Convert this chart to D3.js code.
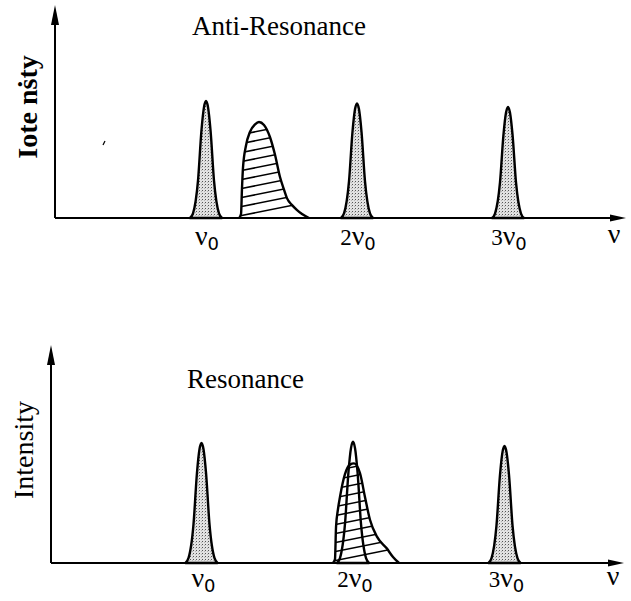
<!DOCTYPE html>
<html>
<head>
<meta charset="utf-8">
<script src="https://cdn.jsdelivr.net/npm/d3@7"></script>
<style>
  body { margin: 0; background: #fff; }
  text { font-family: "Liberation Serif", "Times New Roman", serif; fill: #000; }
</style>
</head>
<body>
<svg id="svg" width="631" height="601"></svg>
<script>
// harmonics, in units of nu0
const harmonics = [1, 2, 3];
const tickLabels = [["", "ν", "0"], ["2", "ν", "0"], ["3", "ν", "0"]];

// peak heights (relative)
const antiHeights = [1.0, 0.98, 0.95];
const resHeights = [1.0, 1.01, 0.975];

// shape of a sharp harmonic line: [offset from centre (nu0 units), relative height]
const lineProfile = [[-0.106, 0], [-0.086, 0.04], [-0.053, 0.32], [-0.030, 0.75], [-0.013, 0.95],
  [0, 1], [0.013, 0.95], [0.030, 0.75], [0.053, 0.32], [0.086, 0.04], [0.106, 0]];

// broad (hatched) band, absolute nu and height
const antiBand = [[1.219, 0], [1.232, 0.034], [1.238, 0.24], [1.245, 0.43], [1.265, 0.62], [1.291, 0.735],
  [1.325, 0.80], [1.351, 0.82], [1.384, 0.795], [1.424, 0.69], [1.457, 0.54], [1.490, 0.35], [1.517, 0.24],
  [1.536, 0.17], [1.570, 0.11], [1.603, 0.068], [1.636, 0.034], [1.682, 0]];
const resBand = [[1.868, 0], [1.881, 0.03], [1.888, 0.30], [1.901, 0.45], [1.914, 0.55], [1.947, 0.74],
  [1.980, 0.82], [2.007, 0.83], [2.046, 0.75], [2.079, 0.55], [2.112, 0.36], [2.158, 0.22],
  [2.224, 0.12], [2.264, 0.05], [2.304, 0]];

const svg = d3.select("#svg");

// stipple fill for the sharp lines
const defs = svg.append("defs");
const pat = defs.append("pattern").attr("id", "stip")
  .attr("width", 3).attr("height", 3).attr("patternUnits", "userSpaceOnUse");
pat.append("rect").attr("width", 3).attr("height", 3).attr("fill", "#e2e2e2");
pat.append("rect").attr("x", 1).attr("y", 1).attr("width", 1).attr("height", 1).attr("fill", "#555");
pat.append("rect").attr("x", 0).attr("y", 2).attr("width", 0.7).attr("height", 0.7).attr("fill", "#888");

function panel(id, o) {
  const g = svg.append("g");
  const x = d3.scaleLinear().domain([0, 1]).range([o.x0, o.x0 + o.unit]);
  const y = d3.scaleLinear().domain([0, 1]).range([o.base, o.base - o.hpx]);
  const area = d3.area().x(d => x(d[0])).y0(o.base).y1(d => y(d[1])).curve(d3.curveMonotoneX);
  const line = d3.line().x(d => x(d[0])).y(d => y(d[1])).curve(d3.curveMonotoneX);

  // hatched band
  defs.append("clipPath").attr("id", "clip" + id).append("path").attr("d", area(o.band));
  const bx0 = x(o.band[0][0]), bx1 = x(o.band[o.band.length - 1][0]);
  const hatch = g.append("g").attr("clip-path", `url(#clip${id})`);
  hatch.append("path").attr("d", area(o.band)).attr("fill", "#fff");
  d3.range(o.base - 2, o.base - o.hpx - 20, -9).forEach(yy => {
    hatch.append("line").attr("x1", bx0).attr("y1", yy).attr("x2", bx1).attr("y2", yy - 0.2 * (bx1 - bx0))
      .attr("stroke", "#000").attr("stroke-width", 1.6);
  });
  g.append("path").attr("d", line(o.band)).attr("fill", "none")
    .attr("stroke", "#000").attr("stroke-width", 2.4);

  // sharp harmonic lines
  harmonics.forEach((h, i) => {
    const pts = lineProfile.map(p => [h + p[0], p[1] * o.heights[i]]);
    const inside = h > o.band[0][0] && h < o.band[o.band.length - 1][0];
    g.append("path").attr("d", area(pts))
      .attr("fill", inside ? "none" : "url(#stip)")
      .attr("stroke", "#000").attr("stroke-width", 2.4).attr("stroke-linejoin", "round");
  });

  // axes
  g.append("line").attr("x1", o.ax).attr("y1", o.base).attr("x2", o.ax).attr("y2", o.ytop + 12)
    .attr("stroke", "#000").attr("stroke-width", 2);
  g.append("path").attr("d", `M${o.ax},${o.ytop} L${o.ax - 4},${o.ytop + 20} L${o.ax + 4},${o.ytop + 20} Z`);
  g.append("line").attr("x1", o.ax).attr("y1", o.base).attr("x2", o.xend - 10).attr("y2", o.base)
    .attr("stroke", "#000").attr("stroke-width", 2);
  g.append("path").attr("d", `M${o.xend},${o.base} L${o.xend - 16},${o.base - 3.5} L${o.xend - 16},${o.base + 3.5} Z`);

  // tick labels
  harmonics.forEach((h, i) => {
    const t = g.append("text").attr("x", x(h) + o.lab).attr("y", o.labY).attr("text-anchor", "middle");
    if (tickLabels[i][0]) t.append("tspan").attr("font-size", 23).text(tickLabels[i][0]);
    t.append("tspan").attr("font-size", 28).text(tickLabels[i][1]);
    t.append("tspan").attr("font-size", 18).attr("font-family", "DejaVu Sans").attr("dy", 5).text(tickLabels[i][2]);
  });
  g.append("text").attr("x", o.nuX).attr("y", o.labY - 2).attr("text-anchor", "middle")
    .attr("font-size", 28).text("ν");

  g.append("text").attr("x", o.titleX).attr("y", o.titleY).attr("font-size", 27).text(o.title);
  g.append("text").attr("transform", `translate(${o.ylabX},${o.ylabY}) rotate(-90)`)
    .attr("text-anchor", "middle").attr("font-size", o.ylabSize)
    .attr("font-weight", o.ylabBold ? "bold" : "normal").text(o.ylab);
}

panel("a", {
  x0: 55, unit: 151, base: 218, hpx: 117, heights: antiHeights, band: antiBand,
  ax: 55, ytop: 5, xend: 626, labY: 245, lab: 1, nuX: 614,
  title: "Anti-Resonance", titleX: 192, titleY: 35,
  ylab: "Iote nṡty", ylabX: 37, ylabY: 107, ylabSize: 28, ylabBold: true
});
panel("r", {
  x0: 50, unit: 151.5, base: 563, hpx: 120, heights: resHeights, band: resBand,
  ax: 51, ytop: 345, xend: 624, labY: 587, lab: 2, nuX: 613,
  title: "Resonance", titleX: 187, titleY: 388,
  ylab: "Intensity", ylabX: 33, ylabY: 450, ylabSize: 28, ylabBold: false
});

// stray marks from the scan
svg.append("line").attr("x1", 103).attr("y1", 145).attr("x2", 105).attr("y2", 141)
  .attr("stroke", "#000").attr("stroke-width", 1.2);
</script>
</body>
</html>
